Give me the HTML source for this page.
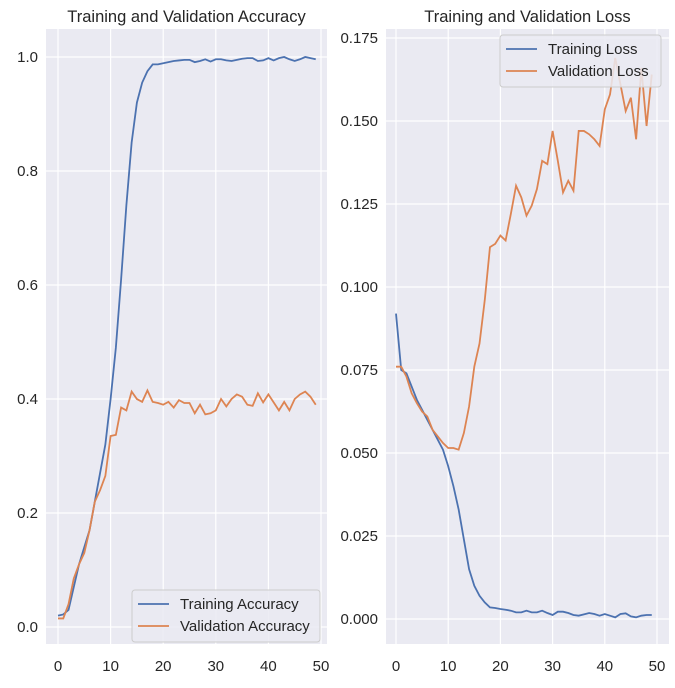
<!DOCTYPE html>
<html><head><meta charset="utf-8"><style>
body{margin:0;background:#fff;}
svg{font-family:"Liberation Sans",sans-serif;}
</style></head><body>
<svg id="c" width="675" height="683" xmlns="http://www.w3.org/2000/svg"></svg>
<script>
const epochs = Array.from({length:50},(_,i)=>i);
const trainAcc = [0.02,0.022,0.03,0.07,0.11,0.14,0.17,0.22,0.27,0.32,0.40,0.49,0.61,0.74,0.85,0.92,0.955,0.975,0.987,0.987,0.989,0.991,0.993,0.994,0.995,0.995,0.991,0.993,0.996,0.992,0.996,0.996,0.994,0.993,0.995,0.997,0.998,0.998,0.993,0.994,0.998,0.994,0.998,1.0,0.996,0.993,0.996,1.0,0.998,0.996];
const valAcc = [0.015,0.015,0.04,0.085,0.11,0.13,0.17,0.22,0.24,0.265,0.335,0.337,0.385,0.38,0.413,0.40,0.395,0.415,0.395,0.393,0.39,0.395,0.385,0.398,0.393,0.393,0.375,0.39,0.373,0.375,0.38,0.4,0.387,0.4,0.408,0.404,0.39,0.388,0.41,0.394,0.408,0.394,0.38,0.395,0.38,0.4,0.408,0.413,0.404,0.39];
const trainLoss = [0.092,0.075,0.074,0.07,0.066,0.063,0.06,0.057,0.054,0.051,0.046,0.04,0.033,0.024,0.015,0.010,0.007,0.005,0.0035,0.0033,0.003,0.0028,0.0025,0.002,0.002,0.0025,0.002,0.002,0.0025,0.0018,0.0012,0.0022,0.0022,0.0018,0.0012,0.001,0.0014,0.0018,0.0015,0.001,0.0015,0.001,0.0005,0.0015,0.0017,0.0008,0.0005,0.001,0.0012,0.0012];
const valLoss = [0.076,0.076,0.073,0.068,0.065,0.0625,0.061,0.057,0.055,0.053,0.0515,0.0515,0.051,0.056,0.064,0.076,0.083,0.096,0.112,0.113,0.1155,0.114,0.122,0.1305,0.127,0.1215,0.1245,0.1295,0.138,0.137,0.147,0.138,0.1285,0.132,0.129,0.147,0.147,0.146,0.1445,0.1425,0.1535,0.158,0.169,0.161,0.153,0.157,0.1445,0.166,0.1485,0.164];
const xTicks = [0,10,20,30,40,50];
const accTicks = [0,0.2,0.4,0.6,0.8,1.0];
const accTickLabels = ["0.0","0.2","0.4","0.6","0.8","1.0"];
const lossTicks = [0,0.025,0.05,0.075,0.1,0.125,0.15,0.175];
const lossTickLabels = ["0.000","0.025","0.050","0.075","0.100","0.125","0.150","0.175"];

const svg=document.getElementById('c');
const NS='http://www.w3.org/2000/svg';
function mk(t,a,p){const e=document.createElementNS(NS,t);for(const k in a)e.setAttribute(k,a[k]);(p||svg).appendChild(e);return e;}

function panel(o){
  const g=mk('g',{});
  
  
  const X=v=>o.x0+(v-0)*(o.x50-o.x0)/50;
  const Y=v=>o.yA+(v-o.vA)*(o.yB-o.yA)/(o.vB-o.vA);
  const bg=mk('rect',{x:o.L,y:29,width:o.R-o.L,height:615,fill:'#eaeaf2'},g);
  
  
  xTicks.forEach(t=>{
    const l=mk('line',{x1:X(t),x2:X(t),y1:29,y2:644,stroke:'#fff','stroke-width':1.2},g);
    
    
    const tx=mk('text',{x:X(t),y:671,'text-anchor':'middle','font-size':15,fill:'#262626'},g);
    tx.textContent=t;
    
    
  });
  o.ticks.forEach((t,i)=>{
    const l=mk('line',{x1:o.L,x2:o.R,y1:Y(t),y2:Y(t),stroke:'#fff','stroke-width':1.2},g);
    
    
    const tx=mk('text',{x:o.L-8,y:Y(t)+5,'text-anchor':'end','font-size':15,fill:'#262626'},g);
    tx.textContent=o.labels[i];
    
    
  });
  o.series.forEach(s=>{
    const p=mk('polyline',{points:s.data.map((v,i)=>X(epochs[i])+','+Y(v)).join(' '),fill:'none',stroke:s.color,'stroke-width':1.8},g);
    
    
  });
  const tt=mk('text',{x:(o.L+o.R)/2,y:22,'text-anchor':'middle','font-size':16.5,fill:'#262626'},g);
  tt.textContent=o.title;
  
  
  const lg=mk('g',{},g);
  
  
  mk('rect',{x:o.lx,y:o.ly,width:o.lw,height:52,rx:3,fill:'#eaeaf2','fill-opacity':0.85,stroke:'#ccc'},lg);
  o.series.forEach((s,i)=>{
    const yy=o.ly+14+i*22;
    mk('line',{x1:o.lx+6,x2:o.lx+37,y1:yy,y2:yy,stroke:s.color,'stroke-width':1.8},lg);
    const t=mk('text',{x:o.lx+48,y:yy+5,'font-size':15,fill:'#262626'},lg);
    t.textContent=s.label;
    
    
  });
}
panel({name:'accuracy-panel',L:46,R:327,x0:58,x50:321,yA:627,vA:0,yB:57,vB:1,ticks:accTicks,labels:accTickLabels,title:'Training and Validation Accuracy',
  series:[{key:'training-accuracy-line',data:trainAcc,color:'#4c72b0',label:'Training Accuracy'},{key:'validation-accuracy-line',data:valAcc,color:'#dd8452',label:'Validation Accuracy'}],
  lx:132,ly:590,lw:188});
panel({name:'loss-panel',L:386,R:669,x0:396,x50:657,yA:619,vA:0,yB:38,vB:0.175,ticks:lossTicks,labels:lossTickLabels,title:'Training and Validation Loss',
  series:[{key:'training-loss-line',data:trainLoss,color:'#4c72b0',label:'Training Loss'},{key:'validation-loss-line',data:valLoss,color:'#dd8452',label:'Validation Loss'}],
  lx:500,ly:35,lw:161});
</script>
</body></html>
